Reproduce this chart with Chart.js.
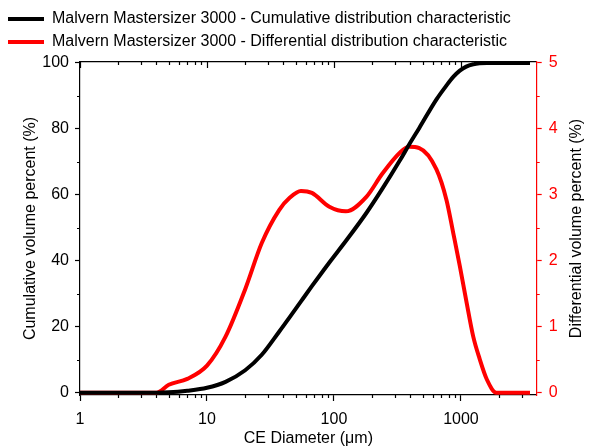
<!DOCTYPE html>
<html>
<head>
<meta charset="utf-8">
<script src="https://cdn.jsdelivr.net/npm/chart.js@4/dist/chart.umd.min.js"></script>
<style>
html, body { margin: 0; padding: 0; background: #fff; }
</style>
</head>
<body>
<canvas id="psdChart" width="592" height="448"></canvas>
<script>
// particle size distribution
const diameters = [1, 2, 3, 4, 5, 7, 10, 14, 20, 27, 37, 45, 55, 67, 92, 124, 180, 240, 330, 390, 470, 640, 770, 870, 980, 1100, 1250, 1400, 1600, 1900, 2500, 3500];
const cumulative = [0, 0, 0, 0, 0.1, 0.6, 1.5, 3.3, 6.8, 11.5, 18.5, 23, 27.7, 32.3, 39.5, 46, 54.5, 61.8, 70.4, 75.2, 80.3, 88.9, 93.2, 95.8, 97.7, 98.9, 99.6, 99.9, 100, 100, 100, 100];
const differential = [0, 0, 0, 0, 0.12, 0.21, 0.41, 0.85, 1.57, 2.27, 2.77, 2.96, 3.06, 3.03, 2.82, 2.75, 2.97, 3.32, 3.64, 3.73, 3.71, 3.39, 2.92, 2.42, 1.92, 1.4, 0.85, 0.52, 0.2, 0, 0, 0];

const xTicks = [1, 10, 100, 1000];
const leftTicks = [0, 20, 40, 60, 80, 100];
const rightTicks = [0, 1, 2, 3, 4, 5];
const leftMinor = [10, 30, 50, 70, 90];
const rightMinor = [0.5, 1.5, 2.5, 3.5, 4.5];
const rightTitle = "Differential volume percent (%)";

const X_MIN = 1;
const X_MAX = 3950;
const RED = "#ff0000";
const FONT = "'Liberation Sans', Arial, sans-serif";
const TOP_PAD = 4;

const xMinor = [];
xTicks.forEach((d) => {
    for (let m = 2; m <= 9; m++) {
        if (d * m < X_MAX) xMinor.push(d * m);
    }
});

Chart.defaults.font.family = FONT;
Chart.defaults.font.size = 16;
Chart.defaults.color = "#000";

// minor ticks, inward ticks on the top frame, right title read bottom-up
const extraTicks = {
    id: "extraTicks",
    afterDraw(chart) {
        const { ctx, chartArea: a, scales } = chart;
        ctx.save();
        ctx.lineWidth = 1.2;
        ctx.strokeStyle = "#000";
        ctx.beginPath();
        xMinor.forEach((v) => {
            const px = Math.round(scales.x.getPixelForValue(v)) + 0.5;
            ctx.moveTo(px, a.bottom);
            ctx.lineTo(px, a.bottom + 3);
            ctx.moveTo(px, a.top);
            ctx.lineTo(px, a.top + 3);
        });
        xTicks.forEach((v) => {
            const px = Math.round(scales.x.getPixelForValue(v)) + 0.5;
            ctx.moveTo(px, a.top);
            ctx.lineTo(px, a.top + 6);
        });
        leftMinor.forEach((v) => {
            const py = Math.round(scales.y.getPixelForValue(v)) + 0.5;
            ctx.moveTo(a.left, py);
            ctx.lineTo(a.left - 3, py);
        });
        ctx.stroke();
        ctx.strokeStyle = RED;
        ctx.beginPath();
        rightMinor.forEach((v) => {
            const py = Math.round(scales.y2.getPixelForValue(v)) + 0.5;
            ctx.moveTo(a.right, py);
            ctx.lineTo(a.right + 3, py);
        });
        ctx.stroke();

        ctx.translate(scales.y2.right - 15, (a.top + a.bottom) / 2);
        ctx.rotate(-Math.PI / 2);
        ctx.font = "16px " + FONT;
        ctx.fillStyle = "#000";
        ctx.textAlign = "center";
        ctx.textBaseline = "middle";
        ctx.fillText(rightTitle, 0, 0);
        ctx.restore();
    },
};

const ctx = document.getElementById("psdChart").getContext("2d");
const psdChart = new Chart(ctx, {
    type: "line",
    data: {
        datasets: [
            {
                label: "Malvern Mastersizer 3000 - Cumulative distribution characteristic",
                data: diameters.map((d, i) => ({ x: d, y: cumulative[i] })),
                borderColor: "#000",
                backgroundColor: "#000",
                borderWidth: 4,
                pointRadius: 0,
                cubicInterpolationMode: "monotone",
                yAxisID: "y",
            },
            {
                label: "Malvern Mastersizer 3000 - Differential distribution characteristic",
                data: diameters.map((d, i) => ({ x: d, y: differential[i] })),
                borderColor: RED,
                backgroundColor: RED,
                borderWidth: 4,
                pointRadius: 0,
                cubicInterpolationMode: "monotone",
                yAxisID: "y2",
            },
        ],
    },
    options: {
        responsive: false,
        animation: false,
        layout: { padding: { top: TOP_PAD, left: 1, right: 0, bottom: 0 } },
        plugins: {
            legend: {
                position: "top",
                align: "start",
                labels: {
                    usePointStyle: true,
                    pointStyle: "line",
                    pointStyleWidth: 36,
                    padding: 7,
                    color: "#000",
                    font: { size: 16 },
                },
            },
            tooltip: { enabled: false },
        },
        scales: {
            x: {
                type: "logarithmic",
                position: "bottom",
                min: X_MIN,
                max: X_MAX,
                afterBuildTicks: (scale) => {
                    scale.ticks = xTicks.map((v) => ({ value: v }));
                },
                afterFit: (scale) => {
                    scale.height = 53;
                },
                ticks: {
                    autoSkip: false,
                    maxRotation: 0,
                    padding: 9,
                    callback: (v) => String(v),
                },
                grid: { drawOnChartArea: false, tickLength: 6, tickColor: "#000", tickWidth: 1.2 },
                border: { color: "#000", width: 1.2 },
                title: { display: true, text: "CE Diameter (μm)", padding: { top: 0, bottom: 0 } },
            },
            xTop: {
                type: "logarithmic",
                position: "top",
                min: X_MIN,
                max: X_MAX,
                afterFit: (scale) => {
                    scale.height = Math.max(0, 62 - TOP_PAD - scale.chart.legend.height);
                },
                ticks: { display: false },
                grid: { display: false },
                border: { display: true, color: "#000", width: 1.2 },
            },
            y: {
                position: "left",
                min: -0.7,
                max: 100.3,
                afterBuildTicks: (scale) => {
                    scale.ticks = leftTicks.map((v) => ({ value: v }));
                },
                afterFit: (scale) => {
                    scale.width = 79;
                },
                ticks: { padding: 6 },
                grid: { drawOnChartArea: false, tickLength: 5, tickColor: "#000", tickWidth: 1.2 },
                border: { color: "#000", width: 1.2 },
                title: { display: true, text: "Cumulative volume percent (%)", padding: { top: 20, bottom: 0 } },
            },
            y2: {
                position: "right",
                min: -0.035,
                max: 5.015,
                afterBuildTicks: (scale) => {
                    scale.ticks = rightTicks.map((v) => ({ value: v }));
                },
                afterFit: (scale) => {
                    scale.width = 55.3;
                },
                ticks: { padding: 7, color: RED },
                grid: { drawOnChartArea: false, tickLength: 5, tickColor: RED, tickWidth: 1.2 },
                border: { color: RED, width: 1.2 },
                title: { display: false },
            },
        },
    },
    plugins: [extraTicks],
});
</script>
</body>
</html>
